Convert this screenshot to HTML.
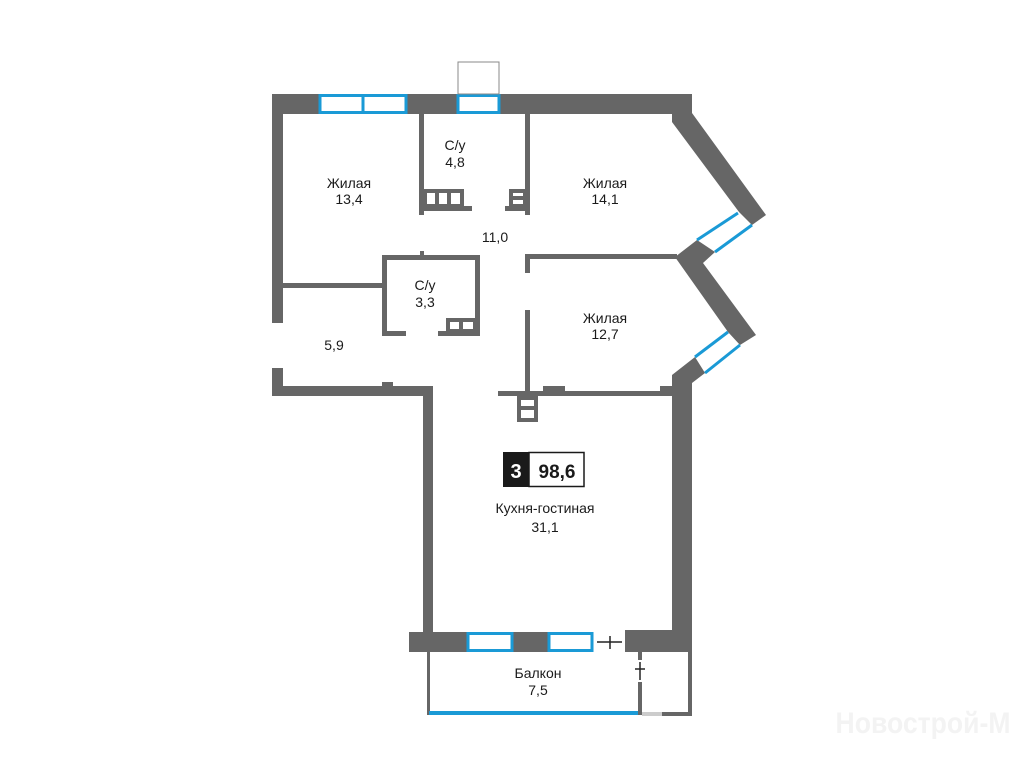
<!DOCTYPE html>
<html><head><meta charset="utf-8"><style>
html,body{margin:0;padding:0;background:#fff;}
svg{display:block;}
text{font-family:"Liberation Sans","DejaVu Sans",sans-serif;fill:#1a1a1a;}
</style></head><body>
<svg width="1024" height="768" viewBox="0 0 1024 768" xmlns="http://www.w3.org/2000/svg">
<g fill="#666">
<rect x="272" y="94" width="420" height="20"/>
<rect x="272" y="94" width="11" height="229"/>
<rect x="272" y="368" width="11" height="28"/>
<rect x="272" y="386" width="161" height="10"/>
<rect x="382" y="382" width="11" height="6"/>
<rect x="423" y="386" width="10" height="266"/>
<rect x="409" y="632" width="183" height="20"/>
<rect x="625" y="630" width="67" height="22"/>
<polygon points="672,94 692,94 692,113 766,215 752,225 739,212 672,122"/>
<polygon points="675,257 697,240 715,252 703,263 756,335 740,345 728,332"/>
<polygon points="672,375 695,357 705,373 692,383 692,652 672,652"/>
<rect x="419" y="114" width="5" height="101"/>
<rect x="525" y="114" width="5" height="101"/>
<rect x="419" y="206" width="53" height="5"/>
<rect x="505" y="206" width="20" height="5"/>
<rect x="525" y="254" width="152" height="5"/>
<rect x="525" y="254" width="5" height="19"/>
<rect x="525" y="310" width="5" height="86"/>
<rect x="498" y="391" width="176" height="5"/>
<rect x="543" y="386" width="22" height="5"/>
<rect x="660" y="386" width="14" height="5"/>
<rect x="382" y="255" width="98" height="5"/>
<rect x="382" y="255" width="5" height="81"/>
<rect x="382" y="331" width="24" height="5"/>
<rect x="438" y="331" width="42" height="5"/>
<rect x="475" y="255" width="5" height="81"/>
<rect x="283" y="283" width="99" height="5"/>
<rect x="420" y="251" width="4" height="5"/>
<rect x="427" y="652" width="3" height="63"/>
<rect x="638" y="652" width="4" height="8"/>
<rect x="638" y="682" width="4" height="33"/>
<rect x="688" y="652" width="4" height="64"/>
<rect x="662" y="712" width="30" height="4"/>
</g>
<rect x="642" y="712" width="20" height="4" fill="#ccc"/>
<rect x="429" y="711" width="209" height="4" fill="#1a9ad6"/>
<g fill="none" stroke="#666" stroke-width="4">
<rect x="425" y="191" width="37" height="15"/>
<line x1="437" y1="191" x2="437" y2="206"/><line x1="449" y1="191" x2="449" y2="206"/>
<rect x="511" y="191" width="14" height="15"/>
<line x1="511" y1="198" x2="525" y2="198"/>
<rect x="448" y="320" width="27" height="11"/>
<line x1="461" y1="320" x2="461" y2="331"/>
<rect x="519" y="398" width="17" height="22"/>
<line x1="519" y1="408" x2="536" y2="408"/>
</g>
<g fill="#fff" stroke="#1a9ad6" stroke-width="3">
<rect x="320" y="95.5" width="86" height="17"/>
<line x1="363" y1="95" x2="363" y2="113"/>
<rect x="458" y="95.5" width="41" height="17"/>
<rect x="468" y="633.5" width="44" height="17"/>
<rect x="549" y="633.5" width="43" height="17"/>
</g>
<line x1="738" y1="213" x2="697" y2="240" stroke="#1a9ad6" stroke-width="3"/>
<line x1="752" y1="225" x2="715" y2="252" stroke="#1a9ad6" stroke-width="3"/>
<line x1="728" y1="332" x2="695" y2="357" stroke="#1a9ad6" stroke-width="3"/>
<line x1="740" y1="345" x2="705" y2="373" stroke="#1a9ad6" stroke-width="3"/>
<rect x="458" y="62" width="41" height="32" fill="none" stroke="#888" stroke-width="1"/>
<g stroke="#222" stroke-width="1.5">
<line x1="597" y1="642" x2="622" y2="642"/><line x1="610" y1="636" x2="610" y2="649"/>
<line x1="640" y1="662" x2="640" y2="680"/><line x1="635" y1="669" x2="645" y2="669"/>
</g>
<g font-size="14" text-anchor="middle">
<text x="349" y="188">Жилая</text><text x="349" y="204">13,4</text>
<text x="455" y="150">С/у</text><text x="455" y="167">4,8</text>
<text x="605" y="188">Жилая</text><text x="605" y="204">14,1</text>
<text x="495" y="242">11,0</text>
<text x="425" y="290">С/у</text><text x="425" y="307">3,3</text>
<text x="334" y="350">5,9</text>
<text x="605" y="323">Жилая</text><text x="605" y="339">12,7</text>
<text x="545" y="513">Кухня-гостиная</text><text x="545" y="532">31,1</text>
<text x="538" y="678">Балкон</text><text x="538" y="695">7,5</text>
</g>
<rect x="503" y="452" width="26" height="35" fill="#1a1a1a"/>
<rect x="529" y="452.5" width="55" height="34" fill="#fff" stroke="#1a1a1a" stroke-width="1.5"/>
<text x="516" y="478" font-size="20" font-weight="bold" text-anchor="middle" style="fill:#fff">3</text>
<text x="557" y="478" font-size="19" font-weight="bold" text-anchor="middle">98,6</text>
<text x="923" y="733" font-size="30" text-anchor="middle" font-weight="bold" style="fill:#f3f3f3" textLength="175" lengthAdjust="spacingAndGlyphs">Новострой-М</text>
</svg>
</body></html>
